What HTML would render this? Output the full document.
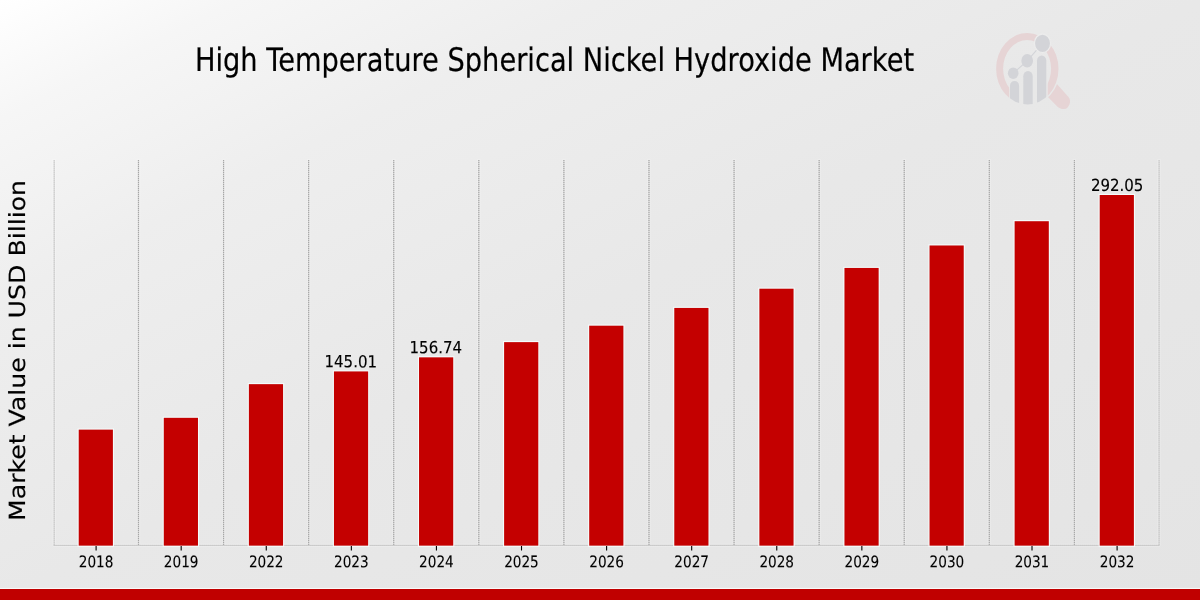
<!DOCTYPE html>
<html lang="en"><head><meta charset="utf-8">
<title>High Temperature Spherical Nickel Hydroxide Market</title>
<style>
html,body{margin:0;padding:0;background:#e6e6e6;}
body{width:1200px;height:600px;overflow:hidden;font-family:"DejaVu Sans","Liberation Sans",sans-serif;}
svg{display:block;}
text{font-family:"DejaVu Sans","Liberation Sans",sans-serif;fill:#000;text-rendering:geometricPrecision;}
</style></head><body>
<svg width="1200" height="600" viewBox="0 0 1200 600">
<defs>
<linearGradient id="bg" x1="0" y1="0" x2="1" y2="1">
<stop offset="0" stop-color="#ffffff"/>
<stop offset="0.1" stop-color="#f6f6f6"/>
<stop offset="0.25" stop-color="#eeeeee"/>
<stop offset="0.5" stop-color="#e8e8e8"/>
<stop offset="1" stop-color="#e4e4e4"/>
</linearGradient>
</defs>
<rect x="0" y="0" width="1200" height="600" fill="url(#bg)"/>
<g stroke="#ffffff" stroke-width="3.4" fill="none" opacity="0.18">
<line x1="54.17" y1="159.00" x2="54.17" y2="545.40"/>
<line x1="1159.07" y1="159.00" x2="1159.07" y2="545.40"/>
<line x1="138.47" y1="159.00" x2="138.47" y2="545.40"/>
<line x1="223.55" y1="159.00" x2="223.55" y2="545.40"/>
<line x1="308.63" y1="159.00" x2="308.63" y2="545.40"/>
<line x1="393.72" y1="159.00" x2="393.72" y2="545.40"/>
<line x1="478.80" y1="159.00" x2="478.80" y2="545.40"/>
<line x1="563.89" y1="159.00" x2="563.89" y2="545.40"/>
<line x1="648.97" y1="159.00" x2="648.97" y2="545.40"/>
<line x1="734.06" y1="159.00" x2="734.06" y2="545.40"/>
<line x1="819.14" y1="159.00" x2="819.14" y2="545.40"/>
<line x1="904.23" y1="159.00" x2="904.23" y2="545.40"/>
<line x1="989.31" y1="159.00" x2="989.31" y2="545.40"/>
<line x1="1074.40" y1="159.00" x2="1074.40" y2="545.40"/>
<line x1="53.17" y1="545.35" x2="1160.07" y2="545.35"/>
</g>
<g stroke="#d3d3d3" stroke-width="1.3" fill="none">
<line x1="138.47" y1="160.00" x2="138.47" y2="545.40"/>
<line x1="223.55" y1="160.00" x2="223.55" y2="545.40"/>
<line x1="308.63" y1="160.00" x2="308.63" y2="545.40"/>
<line x1="393.72" y1="160.00" x2="393.72" y2="545.40"/>
<line x1="478.80" y1="160.00" x2="478.80" y2="545.40"/>
<line x1="563.89" y1="160.00" x2="563.89" y2="545.40"/>
<line x1="648.97" y1="160.00" x2="648.97" y2="545.40"/>
<line x1="734.06" y1="160.00" x2="734.06" y2="545.40"/>
<line x1="819.14" y1="160.00" x2="819.14" y2="545.40"/>
<line x1="904.23" y1="160.00" x2="904.23" y2="545.40"/>
<line x1="989.31" y1="160.00" x2="989.31" y2="545.40"/>
<line x1="1074.40" y1="160.00" x2="1074.40" y2="545.40"/>
</g>
<g stroke="#a6a6a6" stroke-width="1.1" stroke-dasharray="1 1" fill="none">
<line x1="138.47" y1="160.00" x2="138.47" y2="545.40"/>
<line x1="223.55" y1="160.00" x2="223.55" y2="545.40"/>
<line x1="308.63" y1="160.00" x2="308.63" y2="545.40"/>
<line x1="393.72" y1="160.00" x2="393.72" y2="545.40"/>
<line x1="478.80" y1="160.00" x2="478.80" y2="545.40"/>
<line x1="563.89" y1="160.00" x2="563.89" y2="545.40"/>
<line x1="648.97" y1="160.00" x2="648.97" y2="545.40"/>
<line x1="734.06" y1="160.00" x2="734.06" y2="545.40"/>
<line x1="819.14" y1="160.00" x2="819.14" y2="545.40"/>
<line x1="904.23" y1="160.00" x2="904.23" y2="545.40"/>
<line x1="989.31" y1="160.00" x2="989.31" y2="545.40"/>
<line x1="1074.40" y1="160.00" x2="1074.40" y2="545.40"/>
</g>
<g stroke="#cdcdcd" stroke-width="1" fill="none">
<line x1="54.17" y1="160.00" x2="54.17" y2="545.70"/>
<line x1="1159.07" y1="160.00" x2="1159.07" y2="545.70"/>
<line x1="53.67" y1="545.35" x2="1159.57" y2="545.35"/>
</g>
<g stroke="#a8a8a8" stroke-width="1" stroke-dasharray="1 1" fill="none" opacity="0.3">
<line x1="54.17" y1="160.00" x2="54.17" y2="545.70"/>
<line x1="1159.07" y1="160.00" x2="1159.07" y2="545.70"/>
<line x1="53.67" y1="545.35" x2="1159.57" y2="545.35"/>
</g>
<g fill="#c40000" stroke="#f6fefe" stroke-width="2.2" stroke-opacity="0.9" paint-order="stroke">
<rect x="78.70" y="429.62" width="34.20" height="116.03"/>
<rect x="163.78" y="417.80" width="34.20" height="127.85"/>
<rect x="248.87" y="384.15" width="34.20" height="161.50"/>
<rect x="333.95" y="371.42" width="34.20" height="174.23"/>
<rect x="419.03" y="357.34" width="34.20" height="188.31"/>
<rect x="504.11" y="342.13" width="34.20" height="203.52"/>
<rect x="589.20" y="325.68" width="34.20" height="219.97"/>
<rect x="674.28" y="307.91" width="34.20" height="237.74"/>
<rect x="759.36" y="288.69" width="34.20" height="256.96"/>
<rect x="844.45" y="267.92" width="34.20" height="277.73"/>
<rect x="929.53" y="245.47" width="34.20" height="300.18"/>
<rect x="1014.61" y="221.21" width="34.20" height="324.44"/>
<rect x="1099.70" y="195.00" width="34.20" height="350.65"/>
</g>
<g stroke="#000" stroke-width="1.1">
<line x1="96.10" y1="546.00" x2="96.10" y2="550.50"/>
<line x1="181.18" y1="546.00" x2="181.18" y2="550.50"/>
<line x1="266.27" y1="546.00" x2="266.27" y2="550.50"/>
<line x1="351.35" y1="546.00" x2="351.35" y2="550.50"/>
<line x1="436.43" y1="546.00" x2="436.43" y2="550.50"/>
<line x1="521.51" y1="546.00" x2="521.51" y2="550.50"/>
<line x1="606.60" y1="546.00" x2="606.60" y2="550.50"/>
<line x1="691.68" y1="546.00" x2="691.68" y2="550.50"/>
<line x1="776.76" y1="546.00" x2="776.76" y2="550.50"/>
<line x1="861.85" y1="546.00" x2="861.85" y2="550.50"/>
<line x1="946.93" y1="546.00" x2="946.93" y2="550.50"/>
<line x1="1032.01" y1="546.00" x2="1032.01" y2="550.50"/>
<line x1="1117.10" y1="546.00" x2="1117.10" y2="550.50"/>
</g>
<g font-size="16.0" text-anchor="middle" stroke="#000" stroke-width="0.12">
<text transform="translate(96.05,567.35) rotate(0.05) scale(0.85,1)">2018</text>
<text transform="translate(181.13,567.35) rotate(0.05) scale(0.85,1)">2019</text>
<text transform="translate(266.22,567.35) rotate(0.05) scale(0.85,1)">2022</text>
<text transform="translate(351.30,567.35) rotate(0.05) scale(0.85,1)">2023</text>
<text transform="translate(436.38,567.35) rotate(0.05) scale(0.85,1)">2024</text>
<text transform="translate(521.46,567.35) rotate(0.05) scale(0.85,1)">2025</text>
<text transform="translate(606.55,567.35) rotate(0.05) scale(0.85,1)">2026</text>
<text transform="translate(691.63,567.35) rotate(0.05) scale(0.85,1)">2027</text>
<text transform="translate(776.71,567.35) rotate(0.05) scale(0.85,1)">2028</text>
<text transform="translate(861.80,567.35) rotate(0.05) scale(0.85,1)">2029</text>
<text transform="translate(946.88,567.35) rotate(0.05) scale(0.85,1)">2030</text>
<text transform="translate(1031.96,567.35) rotate(0.05) scale(0.85,1)">2031</text>
<text transform="translate(1117.05,567.35) rotate(0.05) scale(0.85,1)">2032</text>
</g>
<g font-size="16.85" text-anchor="middle" stroke="#000" stroke-width="0.15">
<text transform="translate(350.75,367.37) rotate(0.05) scale(0.891,1)">145.01</text>
<text transform="translate(435.83,353.29) rotate(0.05) scale(0.891,1)">156.74</text>
<text transform="translate(1117.15,190.95) rotate(0.05) scale(0.891,1)">292.05</text>
</g>
<text font-size="32.4" text-anchor="middle" stroke="#000" stroke-width="0.2" transform="translate(554.5,71.0) rotate(0) scale(0.8414,1)">High Temperature Spherical Nickel Hydroxide Market</text>
<text font-size="22.3" text-anchor="middle" stroke="#000" stroke-width="0.15" transform="translate(25.3,350.5) rotate(-90) scale(1.129,1)">Market Value in USD Billion</text>
<g id="logo">
<clipPath id="lc"><ellipse cx="1027.3" cy="68.7" rx="31.2" ry="35.8"/></clipPath>
<clipPath id="rc"><path clip-rule="evenodd" d="M900,0 H1200 V200 H900 Z M1009.2,82 H1047.7 V110 H1009.2 Z"/></clipPath>
<clipPath id="hc"><path clip-rule="evenodd" d="M900,0 H1200 V200 H900 Z M994.60,68.7 a32.7,37.3 0 1,0 65.4,0 a32.7,37.3 0 1,0 -65.4,0 Z"/></clipPath>
<path d="M1056,83 L1068.3,96.7 C1070.3,98.8 1070.6,102.5 1069.3,104.7 C1068,107.3 1066.5,109 1064.2,109.1 C1061.5,109.2 1059,108.3 1057,106.3 L1047,96 Z" fill="#e6d4d5" clip-path="url(#hc)"/>
<path fill-rule="evenodd" d="M996.10,68.7 a31.2,35.8 0 1,0 62.4,0 a31.2,35.8 0 1,0 -62.4,0 Z M1003.10,68.7 a24,28.7 0 1,0 48,0 a24,28.7 0 1,0 -48,0 Z" fill="#e6d4d5" clip-path="url(#rc)"/>
<g clip-path="url(#lc)" fill="#d3d4d8">
<rect x="1010" y="80.9" width="9.1" height="30" rx="4.55" ry="5"/>
<rect x="1023.3" y="71" width="9.4" height="40" rx="4.7" ry="5.2"/>
<rect x="1037" y="55.4" width="9.3" height="55" rx="4.65" ry="5.2"/>
</g>
<polyline points="1013.2,73.2 1027.2,60.8 1042.5,43.3" fill="none" stroke="#d3d4d8" stroke-width="1.1"/>
<ellipse cx="1013.2" cy="73.2" rx="5.3" ry="5.8" fill="#d3d4d8"/>
<ellipse cx="1027.2" cy="60.7" rx="5.85" ry="6.7" fill="#d3d4d8"/>
<ellipse cx="1042.5" cy="43.3" rx="8.1" ry="9.3" fill="#d3d4d8" stroke="#ececec" stroke-width="1.3"/>
</g>
<rect x="0" y="587.9" width="1200" height="1.1" fill="#ffffff" opacity="0.75"/>
<rect x="0" y="589" width="1200" height="11" fill="#c00000"/>
</svg>
</body></html>
